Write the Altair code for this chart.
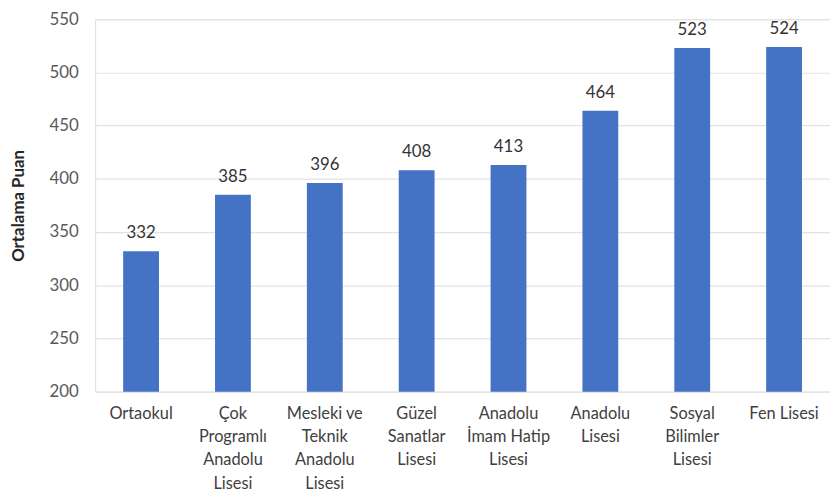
import altair as alt
import pandas as pd

categories = [
    "Ortaokul",
    "Çok\nProgramlı\nAnadolu\nLisesi",
    "Mesleki ve\nTeknik\nAnadolu\nLisesi",
    "Güzel\nSanatlar\nLisesi",
    "Anadolu\nİmam Hatip\nLisesi",
    "Anadolu\nLisesi",
    "Sosyal\nBilimler\nLisesi",
    "Fen Lisesi",
]
values = [332, 385, 396, 408, 413, 464, 523, 524]
y_ticks = [200, 250, 300, 350, 400, 450, 500, 550]

df = pd.DataFrame({"okul": categories, "puan": values})

FONT = "Lato"

base = alt.Chart(df).encode(
    x=alt.X(
        "okul:N",
        sort=None,
        title=None,
        scale=alt.Scale(paddingInner=0.61, paddingOuter=0.305),
        axis=alt.Axis(
            labelAngle=0,
            labelExpr="split(datum.label, '\\n')",
            labelFont=FONT,
            labelFontSize=16.5,
            labelColor="#404040",
            labelLineHeight=23.5,
            labelPadding=14,
            ticks=False,
            domain=False,
            labelBaseline="top",
        ),
    ),
)

bars = base.mark_bar(color="#4472C4").encode(
    y=alt.Y(
        "puan:Q",
        title="Ortalama Puan",
        scale=alt.Scale(domain=[200, 550], zero=False, nice=False),
        axis=alt.Axis(
            values=y_ticks,
            ticks=False,
            domain=False,
            labelFont=FONT,
            labelFontSize=17,
            labelColor="#595959",
            labelPadding=17,
            gridColor="#e3e3e3",
            gridWidth=1.2,
            titleFont=FONT,
            titleFontSize=17,
            titleFontWeight="bold",
            titleColor="#262626",
            titlePadding=22,
        ),
    ),
    y2=alt.datum(200),
)

texts = base.mark_text(
    baseline="bottom", dy=-9, font=FONT, fontSize=17, color="#333333"
).encode(y=alt.Y("puan:Q"), text=alt.Text("puan:Q"))

chart = (
    alt.layer(bars, texts)
    .properties(
        width=742,
        height=376,
        autosize=alt.AutoSizeParams(type="none"),
        padding={"left": 88, "top": 9, "right": 0, "bottom": 100},
    )
    .configure_axis(domain=False, ticks=False)
    .configure_view(stroke=None)
    .configure(background="white")
)

chart.save("out.html", embed_options={"renderer": "svg", "actions": False})
